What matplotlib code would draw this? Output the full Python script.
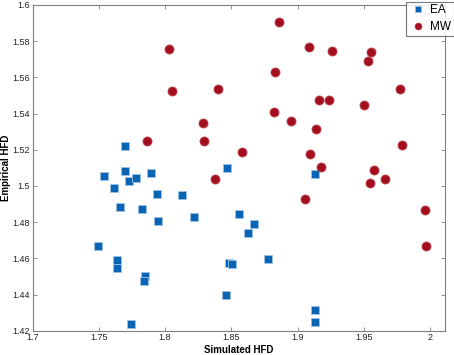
import matplotlib
matplotlib.use("Agg")
import matplotlib.pyplot as plt
from matplotlib.lines import Line2D

plt.rcParams['font.family'] = ['Liberation Sans', 'DejaVu Sans']

ea_x = [1.7696, 1.7540, 1.7699, 1.7897, 1.8467, 1.7729, 1.7782, 1.7618, 1.7938, 1.8129,
        1.7661, 1.7827, 1.7950, 1.8218, 1.7492, 1.7638, 1.7641, 1.7847, 1.7844, 1.7744,
        1.8459, 1.8486, 1.8505, 1.8560, 1.8670, 1.8630, 1.8779, 1.9134, 1.9134, 1.9134]
ea_y = [1.5219, 1.5056, 1.5082, 1.5073, 1.5099, 1.5027, 1.5042, 1.4988, 1.4957, 1.4950,
        1.4882, 1.4872, 1.4806, 1.4826, 1.4666, 1.4592, 1.4544, 1.4504, 1.4473, 1.4235,
        1.4397, 1.4576, 1.4568, 1.4846, 1.4791, 1.4740, 1.4596, 1.4316, 1.4249, 1.5067]

mw_x = [1.8030, 1.8054, 1.8400, 1.8285, 1.8293, 1.7862, 1.8378, 1.8864, 1.9083, 1.9257,
        1.9557, 1.9532, 1.8832, 1.9776, 1.9164, 1.9237, 1.9504, 1.8822, 1.8952, 1.9136,
        1.9791, 1.8582, 1.9091, 1.9179, 1.9577, 1.9056, 1.9544, 1.9662, 1.9965, 1.9972]
mw_y = [1.5757, 1.5526, 1.5537, 1.5346, 1.5247, 1.5247, 1.5036, 1.5908, 1.5770, 1.5747,
        1.5738, 1.5689, 1.5628, 1.5537, 1.5477, 1.5477, 1.5446, 1.5407, 1.5357, 1.5316,
        1.5228, 1.5187, 1.5178, 1.5106, 1.5086, 1.4926, 1.5014, 1.5036, 1.4867, 1.4666]

x_ticks = [1.7, 1.75, 1.8, 1.85, 1.9, 1.95, 2.0]
x_labels = ['1.7', '1.75', '1.8', '1.85', '1.9', '1.95', '2']
y_ticks = [1.42, 1.44, 1.46, 1.48, 1.5, 1.52, 1.54, 1.56, 1.58, 1.6]
y_labels = ['1.42', '1.44', '1.46', '1.48', '1.5', '1.52', '1.54', '1.56', '1.58', '1.6']

blue = '#0a64b4'
blue_edge = '#9cc3e8'
red = '#a30f1f'
red_edge = '#b8424f'

fig = plt.figure(figsize=(4.54, 3.55), dpi=100)
ax = fig.add_axes([32.5/454, 1 - 330.7/355, (445 - 32.5)/454, (330.7 - 5)/355])

ax.plot(ea_x, ea_y, linestyle='none', marker='s', markersize=6.3,
        markerfacecolor=blue, markeredgecolor=blue_edge, markeredgewidth=0.6)
ax.plot(mw_x, mw_y, linestyle='none', marker='o', markersize=6.5,
        markerfacecolor=red, markeredgecolor=red_edge, markeredgewidth=0.6)

ax.set_xlim(1.7, 2.0113)
ax.set_ylim(1.42, 1.6)
ax.set_xticks(x_ticks)
ax.set_xticklabels(x_labels)
ax.set_yticks(y_ticks)
ax.set_yticklabels(y_labels)

spine_col = '#7f7f7f'
for s in ax.spines.values():
    s.set_color(spine_col)
    s.set_linewidth(0.8)
ax.tick_params(direction='in', length=3, width=0.6, color=spine_col,
               top=True, right=True, labelsize=6.5, pad=2, labelcolor='#222222')

ax.set_xlabel('Simulated HFD', fontsize=7, fontweight='bold', labelpad=2)
ax.set_ylabel('Empirical HFD', fontsize=7, fontweight='bold')
ax.yaxis.set_label_coords(-(32.5 - 11.5) / (445 - 32.5), 0.5)

handles = [Line2D([], [], linestyle='none', marker='s', markersize=4.5,
                  markerfacecolor=blue, markeredgecolor=blue_edge, markeredgewidth=0.5),
           Line2D([], [], linestyle='none', marker='o', markersize=5,
                  markerfacecolor=red, markeredgecolor=red_edge, markeredgewidth=0.5)]
leg = fig.legend(handles, ['EA', 'MW'], loc='lower left',
                 bbox_to_anchor=(405.7/454, 1 - 35.7/355), bbox_transform=fig.transFigure,
                 fontsize=8.5, frameon=True, fancybox=False, borderpad=0.2,
                 handletextpad=0.2, handlelength=1.7, labelspacing=0.45,
                 borderaxespad=0)
leg.get_frame().set_edgecolor('#555555')
leg.get_frame().set_linewidth(0.8)

fig.savefig('out.png', dpi=100)
